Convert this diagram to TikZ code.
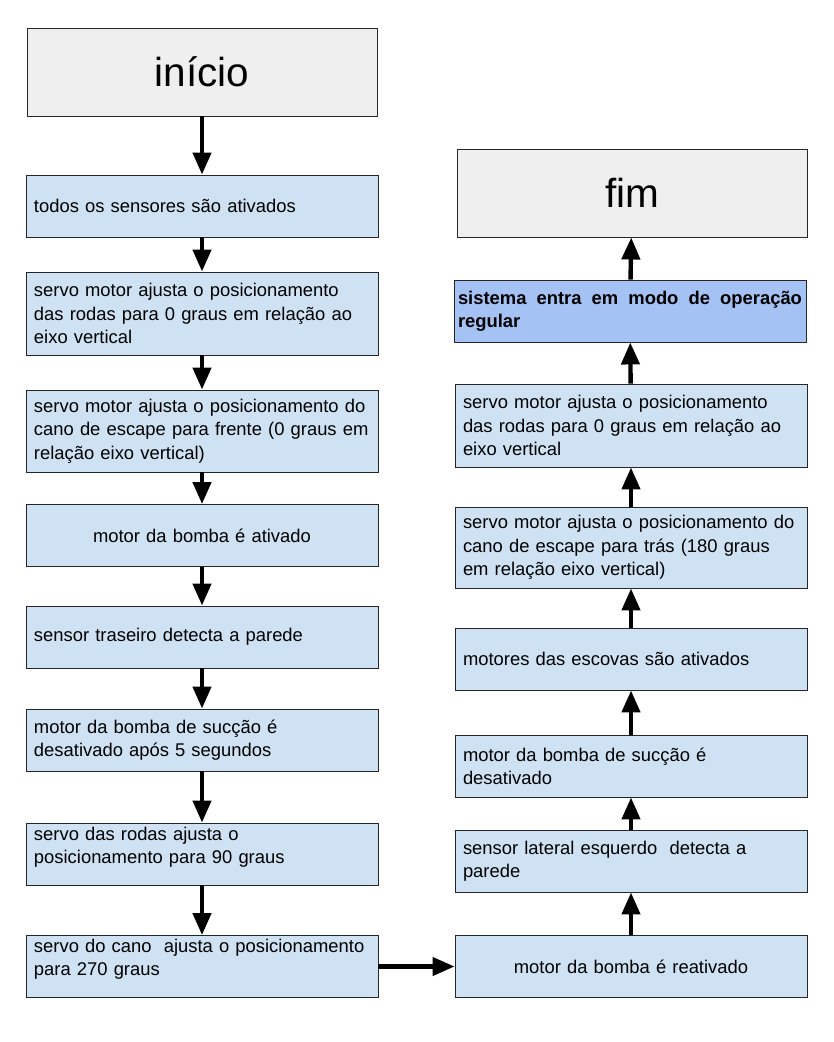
\documentclass[tikz,border=0pt]{standalone}
\usepackage{fontspec}
\setmainfont{Liberation Sans}
\usetikzlibrary{arrows.meta}
\definecolor{azulclaro}{HTML}{CFE2F3}
\definecolor{azulforte}{HTML}{A4C2F4}
\definecolor{cinza}{HTML}{EFEFEF}
\tikzstyle{every edge} = [draw,line width=4.4pt,-{Triangle[length=22pt,width=18pt]}]
\tikzstyle{passo} = [draw=black!85,line width=0.9pt,fill=azulclaro,text width=336pt,inner xsep=8pt,
  minimum height=62pt,align=left,font=\fontsize{18.4}{23.3}\selectfont]
\tikzstyle{extremo} = [draw=black!85,line width=0.9pt,fill=cinza,minimum width=350pt,minimum height=88pt,
  font=\fontsize{40.5}{46}\selectfont]
\tikzstyle{topo} = [text height=12pt,text depth=40pt,inner ysep=5pt]
\tikzstyle{destaque} = [fill=azulforte,align=justify,text width=344pt,inner xsep=4pt,
  font=\fontsize{18.4}{23.3}\selectfont\bfseries]

\begin{document}
\begin{tikzpicture}[x=1pt,y=-1pt]
\useasboundingbox (0,0) rectangle (834,1042);

\node[extremo] (v1) at (202,72) {início};
\node[passo] (v2) at (202,206) {todos os sensores são ativados};
\node[passo,minimum height=83pt] (v3) at (202,313.5) {servo motor ajusta o posicionamento\\das rodas para 0 graus em relação ao\\eixo vertical};
\node[passo,minimum height=82pt] (v4) at (202,431) {servo motor ajusta o posicionamento do\\cano de escape para frente (0 graus em\\relação eixo vertical)};
\node[passo,align=center] (v5) at (202,535.5) {motor da bomba é ativado};
\node[passo] (v6) at (202,637) {sensor traseiro detecta a parede};
\node[passo] (v7) at (202,740) {motor da bomba de sucção é\\desativado após 5 segundos};
\node[passo,topo] (v8) at (202,854) {servo das rodas ajusta o\\posicionamento para 90 graus};
\node[passo,topo] (v9) at (202,966.5) {servo do cano\ \ ajusta o posicionamento\\para 270 graus};

\node[passo,align=center] (v10) at (631,966.5) {motor da bomba é reativado};
\node[passo] (v11) at (631,861) {sensor lateral esquerdo\ \ detecta a\\parede};
\node[passo] (v12) at (631,766) {motor da bomba de sucção é\\desativado};
\node[passo] (v13) at (631,659) {motores das escovas são ativados};
\node[passo,minimum height=81pt] (v14) at (631,547.5) {servo motor ajusta o posicionamento do\\cano de escape para trás (180 graus\\em relação eixo vertical)};
\node[passo,minimum height=83pt] (v15) at (631,425.5) {servo motor ajusta o posicionamento\\das rodas para 0 graus em relação ao\\eixo vertical};
\node[passo,destaque] (v16) at (630,311) {sistema entra em modo de operação\linebreak regular};
\node[extremo] (v17) at (632,193) {fim};

\draw (v1) edge (v2);
\draw (v2) edge (v3);
\draw (v3) edge (v4);
\draw (v4) edge (v5);
\draw (v5) edge (v6);
\draw (v6) edge (v7);
\draw (v7) edge (v8);
\draw (v8) edge (v9);
\draw (v9) edge (v10);
\draw (v10) edge (v11);
\draw (v11) edge (v12);
\draw (v12) edge (v13);
\draw (v13) edge (v14);
\draw (v14) edge (v15);
\draw (v15) edge (v16);
\draw (v16) edge (v17);

\end{tikzpicture}
\end{document}
